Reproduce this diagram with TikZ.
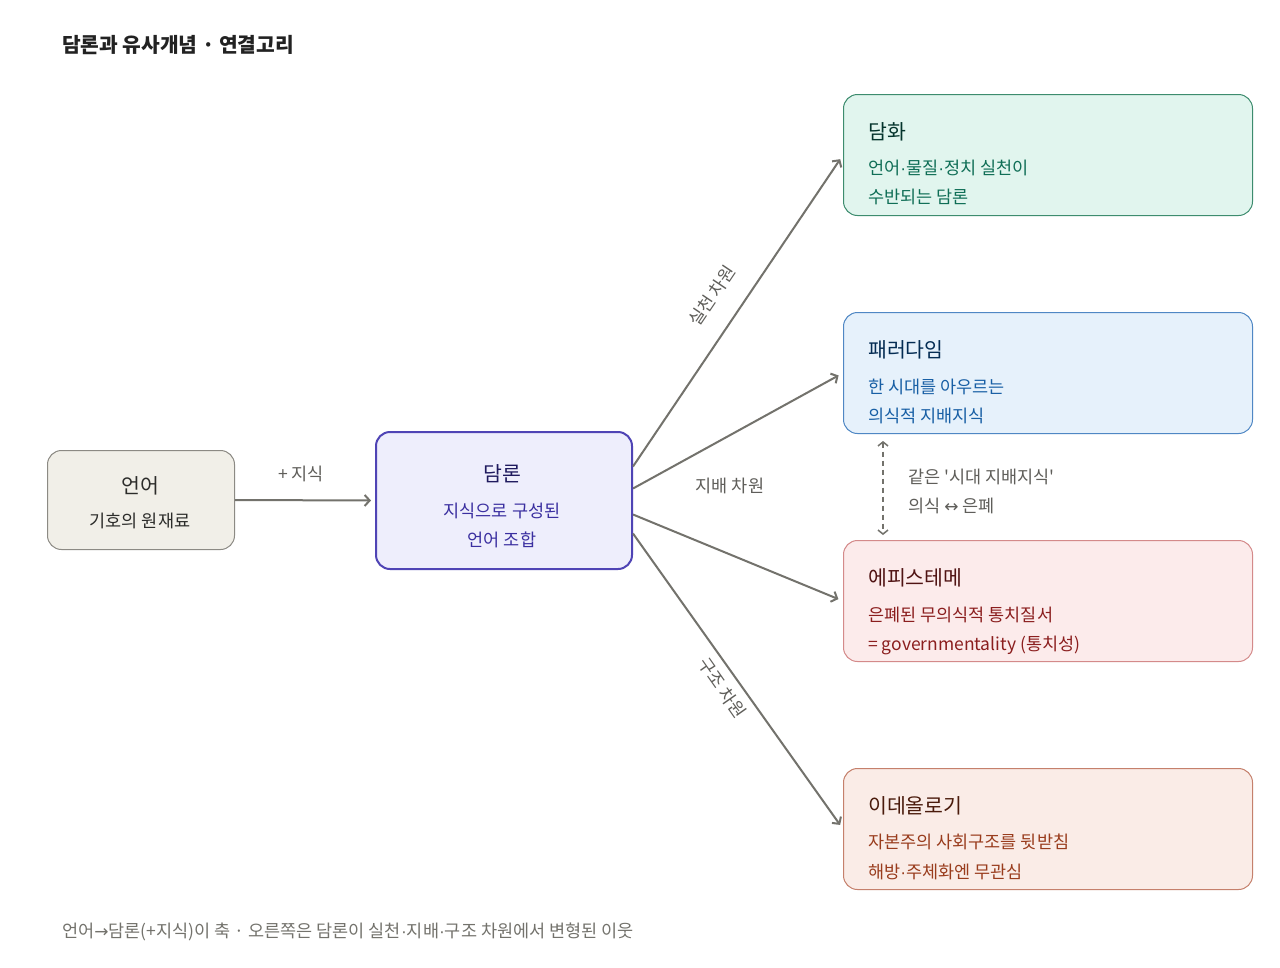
\documentclass[tikz,border=0pt]{standalone}
\usepackage{fontspec}
\setmainfont{Noto Sans CJK KR}
\newfontfamily\krplain{Noto Sans CJK KR}
\newfontfamily\symfont{DejaVu Sans}
\newfontfamily\latfont{Liberation Sans}
\newcommand{\mdot}{{\latfont·}}
\usetikzlibrary{arrows.meta,calc}
\definecolor{arrowgray}{HTML}{73726C}
\definecolor{labelgray}{HTML}{5F5E5A}
\definecolor{titlegray}{HTML}{222222}
\definecolor{langfill}{HTML}{F1EFE8}
\definecolor{langdraw}{HTML}{8C8A84}
\definecolor{langtext}{HTML}{2C2C2A}
\definecolor{discfill}{HTML}{EEEEFC}
\definecolor{discdraw}{HTML}{4F44B5}
\definecolor{disctitle}{HTML}{1F1A5E}
\definecolor{discsub}{HTML}{3A2FA0}
\definecolor{dhfill}{HTML}{E1F5EE}
\definecolor{dhdraw}{HTML}{3D8C6E}
\definecolor{dhtitle}{HTML}{04342C}
\definecolor{dhsub}{HTML}{0F6E56}
\definecolor{pafill}{HTML}{E6F1FB}
\definecolor{padraw}{HTML}{4F87C4}
\definecolor{patitle}{HTML}{042C53}
\definecolor{pasub}{HTML}{185FA5}
\definecolor{epfill}{HTML}{FCEBEB}
\definecolor{epdraw}{HTML}{D48A8A}
\definecolor{eptitle}{HTML}{501313}
\definecolor{epsub}{HTML}{8B1E1E}
\definecolor{idfill}{HTML}{FAECE7}
\definecolor{iddraw}{HTML}{C5806C}
\definecolor{idtitle}{HTML}{4A1B0C}
\definecolor{idsub}{HTML}{993C1D}
\begin{document}
\begin{tikzpicture}[x=1pt,y=-1pt,
  box/.style={rounded corners=14pt, line width=1pt, inner sep=0pt, anchor=north west},
  rbox/.style={box, minimum width=409pt, minimum height=121pt},
  txt/.style={inner sep=0pt},
  ttl/.style={txt, font=\fontsize{20.5}{24}\selectfont},
  sub/.style={txt, font=\fontsize{17.5}{21}\selectfont},
  lbl/.style={txt, text=labelgray, font=\fontsize{17.5}{21}\selectfont},
  conn/.style={draw=arrowgray, line width=2pt, -{Straight Barb[length=5pt,width=11pt]}}
]
\useasboundingbox (0,0) rectangle (1280,967);
\fill[white] (0,0) rectangle (1280,967);

\node[txt, anchor=west, text=titlegray, font=\fontsize{20.3}{24}\selectfont\bfseries] (title) at (62,45) {담론과 유사개념 · 연결고리};

% left box
\node[box, fill=langfill, draw=langdraw, minimum width=187pt, minimum height=99pt] (lang) at (47,450) {};
\node[ttl, text=langtext] (langT) at (140,486) {언어};
\node[sub, text=langtext] (langS) at (140,521) {기호의 원재료};

% center box
\node[box, fill=discfill, draw=discdraw, line width=2pt, minimum width=256pt, minimum height=137pt] (disc) at (375,431) {};
\node[ttl, text=disctitle] (discT) at (502,474) {담론};
\node[sub, text=discsub] (discS1) at (502,511) {지식으로 구성된};
\node[sub, text=discsub] (discS2) at (502,540) {언어 조합};

% right boxes
\node[rbox, fill=dhfill, draw=dhdraw] (dh) at (843,94) {};
\node[ttl, anchor=west, text=dhtitle] (dhT) at (868,132) {담화};
\node[sub, anchor=west, text=dhsub] (dhS1) at (868,168) {언어\mdot 물질\mdot 정치 실천이};
\node[sub, anchor=west, text=dhsub] (dhS2) at (868,197) {수반되는 담론};

\node[rbox, fill=pafill, draw=padraw] (pa) at (843,312) {};
\node[ttl, anchor=west, text=patitle] (paT) at (868,350) {패러다임};
\node[sub, anchor=west, text=pasub] (paS1) at (868,387) {한 시대를 아우르는};
\node[sub, anchor=west, text=pasub] (paS2) at (868,416) {의식적 지배지식};

\node[rbox, fill=epfill, draw=epdraw] (ep) at (843,540) {};
\node[ttl, anchor=west, text=eptitle] (epT) at (868,578) {에피스테메};
\node[sub, anchor=west, text=epsub] (epS1) at (868,615) {은폐된 무의식적 통치질서};
\node[sub, anchor=west, text=epsub] (epS2) at (868,645) {= governmentality (통치성)};

\node[rbox, fill=idfill, draw=iddraw] (id) at (843,768) {};
\node[ttl, anchor=west, text=idtitle] (idT) at (868,806) {이데올로기};
\node[sub, anchor=west, text=idsub] (idS1) at (868,842) {자본주의 사회구조를 뒷받침};
\node[sub, anchor=west, text=idsub] (idS2) at (868,872) {해방\mdot 주체화엔 무관심};

% connectors
\draw[conn, shorten >=4pt] (lang.east) -- (disc.west);
\node[lbl] (plus) at (301,474) {+ 지식};

\coordinate (o1) at ($(disc.east)+(0,-34)$);
\coordinate (o2) at ($(disc.east)+(0,-12)$);
\coordinate (o3) at ($(disc.east)+(0,14)$);
\coordinate (o4) at ($(disc.east)+(0,33)$);
\draw[conn, shorten >=5pt] (o1) -- (dh.west);
\draw[conn, shorten >=5pt] (o2) -- (pa.west);
\draw[conn, shorten >=5pt] (o3) -- (ep.west);
\draw[conn, shorten >=5pt] (o4) -- (id.west);

\node[lbl, rotate=56] (l1) at (712,296) {실천 차원};
\node[lbl] (l2) at (730,486) {지배 차원};
\node[lbl, rotate=-55] (l3) at (722,688) {구조 차원};

% dashed double arrow
\coordinate (dA) at ($(pa.south west)+(40,0)$);
\coordinate (dB) at ($(ep.north west)+(40,0)$);
\draw[draw=arrowgray, line width=1.5pt, dash pattern=on 5pt off 4pt, {Straight Barb[length=4pt,width=10pt]}-{Straight Barb[length=4pt,width=10pt]}, shorten <=7pt, shorten >=5pt] (dA) -- (dB);
\node[lbl, anchor=west, font=\krplain\fontsize{17.5}{21}\selectfont] (same1) at (908,477) {같은 '시대 지배지식'};
\node[lbl, anchor=west] (same2) at (908,506) {의식 {\symfont\fontsize{17}{20}\selectfont ↔} 은폐};

% footer
\node[lbl, anchor=west, text=arrowgray] (foot) at (62,932) {언어{\symfont\fontsize{17}{20}\selectfont →}담론(+지식)이 축 · 오른쪽은 담론이 실천\mdot 지배\mdot 구조 차원에서 변형된 이웃};
\end{tikzpicture}
\end{document}
